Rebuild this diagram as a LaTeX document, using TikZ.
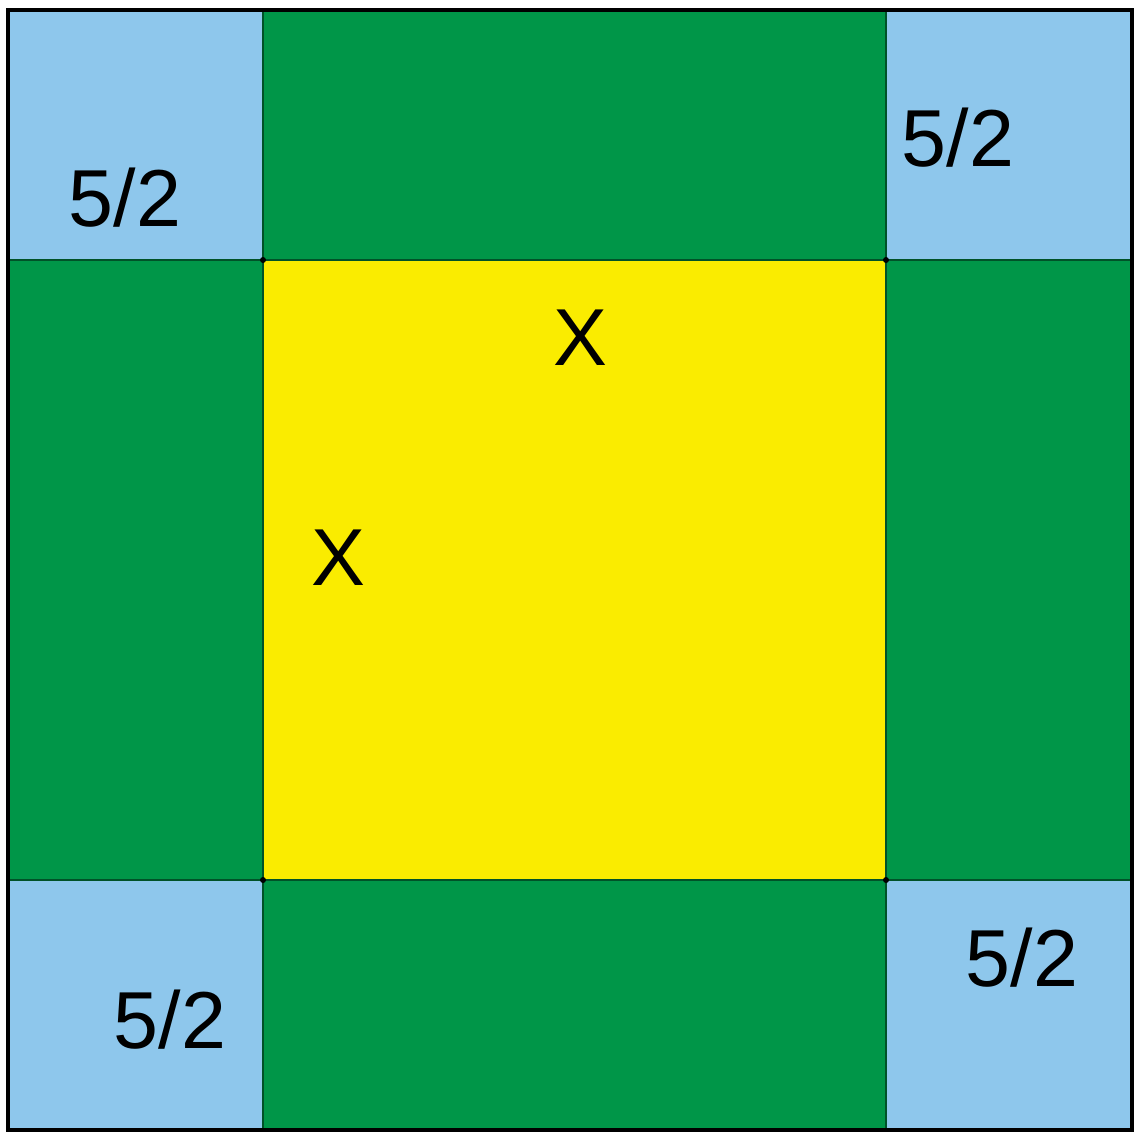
\documentclass[tikz,border=0pt]{standalone}
\usepackage{fontspec}
\setmainfont{Liberation Sans}
\usepackage{xcolor}
\definecolor{skyblue}{RGB}{142,199,236}
\definecolor{fieldgreen}{RGB}{0,150,72}
\definecolor{centeryellow}{RGB}{250,236,0}

\begin{document}
\begin{tikzpicture}[x=0.02cm, y=-0.02cm, thick,
    lbl/.style={font=\fontsize{46}{50}\selectfont, inner sep=0pt},
    edge/.style={line width=1pt, draw=black!45!fieldgreen}]
    \useasboundingbox (0,0) rectangle (1142,1133);

    % corner squares
    \fill[skyblue] (8,10) rectangle (1132,1130);
    % green strips
    \fill[fieldgreen] (263,10) rectangle (886,260);
    \fill[fieldgreen] (263,880) rectangle (886,1130);
    \fill[fieldgreen] (8,260) rectangle (263,880);
    \fill[fieldgreen] (886,260) rectangle (1132,880);
    % centre
    \fill[centeryellow] (263,260) rectangle (886,880);

    \draw[edge] (263,10) -- (263,1130);
    \draw[edge] (886,10) -- (886,1130);
    \draw[edge] (8,260) -- (1132,260);
    \draw[edge] (8,880) -- (1132,880);
    \foreach \cx in {263,886}
        \foreach \cy in {260,880}
            \fill (\cx,\cy) circle (3);
    \draw[line width=1.8pt] (8,10) rectangle (1132,1130);

    \node[lbl] (TL) at (125,198) {5/2};
    \node[lbl] (TR) at (958,138) {5/2};
    \node[lbl] (BR) at (1022,958) {5/2};
    \node[lbl] (BL) at (170,1020) {5/2};
    \node[lbl] (X1) at (580,338) {X};
    \node[lbl] (X2) at (338,558) {X};
\end{tikzpicture}
\end{document}
